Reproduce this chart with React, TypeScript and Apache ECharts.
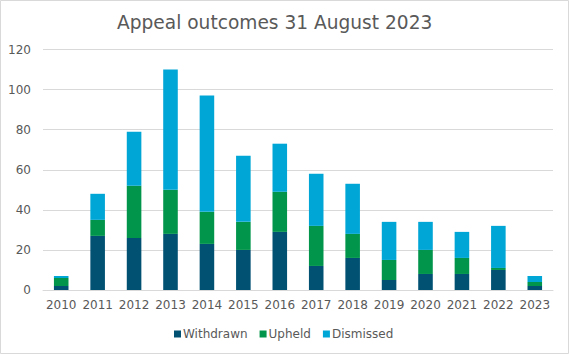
import React, { useEffect, useRef } from "react";
import * as echarts from "echarts";

const years = ["2010","2011","2012","2013","2014","2015","2016","2017","2018","2019","2020","2021","2022","2023"];
const withdrawn = [2, 27, 26, 28, 23, 20, 29, 12, 16, 5, 8, 8, 10, 2];
const upheld = [4, 8, 26, 22, 16, 14, 20, 20, 12, 10, 12, 8, 1, 2];
const dismissed = [1, 13, 27, 60, 58, 33, 24, 26, 25, 19, 14, 13, 21, 3];
const yTicks = [0, 20, 40, 60, 80, 100, 120];

const FONT = "DejaVu Sans, Verdana, sans-serif";
const TXT = "#595959";

export default function App() {
  const ref = useRef<HTMLDivElement>(null);
  useEffect(() => {
    if (!ref.current) return;
    const chart = echarts.init(ref.current, undefined, { renderer: "svg" });
    const mk = (name: string, data: number[], color: string) => ({
      name,
      type: "bar",
      stack: "total",
      data,
      barWidth: "40%",
      itemStyle: { color },
    });
    chart.setOption({
      animation: false,
      backgroundColor: "#ffffff",
      textStyle: { fontFamily: FONT },
      title: {
        text: "Appeal outcomes 31 August 2023",
        left: 112,
        top: 8,
        textStyle: { fontFamily: FONT, fontSize: 18.6, fontWeight: "normal", color: TXT },
      },
      legend: {
        bottom: 9,
        left: 169,
        itemWidth: 7,
        itemHeight: 7,
        itemGap: 12,
        icon: "rect",
        textStyle: { fontFamily: FONT, fontSize: 12, color: TXT, padding: [0, 0, 0, -3] },
        data: ["Withdrawn", "Upheld", "Dismissed"],
      },
      grid: { left: 43, right: 16, top: 49.5, bottom: 64, containLabel: false },
      xAxis: {
        type: "category",
        data: years,
        axisLine: { lineStyle: { color: "#d9d9d9" } },
        axisTick: { show: false },
        axisLabel: { fontFamily: FONT, fontSize: 12, color: TXT, margin: 9, interval: 0 },
      },
      yAxis: {
        type: "value",
        min: yTicks[0],
        max: yTicks[yTicks.length - 1],
        interval: 20,
        axisLine: { show: false },
        axisTick: { show: false },
        splitLine: { lineStyle: { color: "#d9d9d9" } },
        axisLabel: { fontFamily: FONT, fontSize: 12, color: TXT, margin: 12 },
      },
      graphic: [
        {
          type: "rect",
          shape: { x: 0.5, y: 0.5, width: 568, height: 353 },
          style: { fill: "none", stroke: "#d9d9d9", lineWidth: 1 },
          silent: true,
        },
      ],
      series: [
        mk("Withdrawn", withdrawn, "#005172"),
        mk("Upheld", upheld, "#00954A"),
        mk("Dismissed", dismissed, "#00A6D6"),
      ],
    });
    return () => chart.dispose();
  }, []);
  return (
    <div
      ref={ref}
      style={{ position: "absolute", left: 0, top: 0, width: 569, height: 354 }}
    />
  );
}
